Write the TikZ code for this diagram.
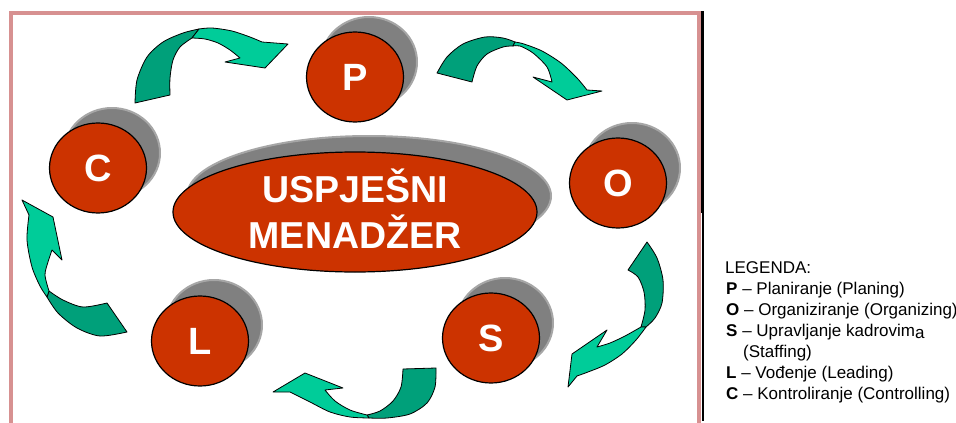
\documentclass[tikz,border=0pt]{standalone}
\usepackage{fontspec}
\setmainfont{Liberation Sans}
\usetikzlibrary{shapes.geometric}
\definecolor{redf}{RGB}{204,51,0}
\definecolor{shad}{RGB}{128,128,128}
\definecolor{darkg}{RGB}{0,160,122}
\definecolor{lightg}{RGB}{0,204,153}
\definecolor{framec}{RGB}{215,145,145}
\begin{document}
\begin{tikzpicture}[x=1pt,y=-1pt,
  ball/.style={ellipse, draw=black, line width=1.2pt, fill=redf, minimum width=97pt, minimum height=90pt, inner sep=0pt, text=white, font=\fontsize{38}{38}\selectfont\bfseries},
  bigoval/.style={ellipse, draw=black, line width=1.2pt, fill=redf, minimum width=364pt, minimum height=120pt, inner sep=0pt},
  bigtext/.style={anchor=base, text=white, inner sep=0pt, font=\fontsize{37.5}{40}\selectfont\bfseries},
  legtext/.style={anchor=base west, inner sep=0pt, text=black, font=\fontsize{17}{20}\selectfont},
  darkpart/.style={fill=darkg, draw=black, line width=0.8pt, line join=round},
  lightpart/.style={fill=lightg, draw=black, line width=0.8pt, line join=round},
  shadowfill/.style={fill=shad, draw=shad!70, line width=2pt}
]
\useasboundingbox (0,0) rectangle (956,423);
% frame
\draw[framec, line width=4pt] (11,425) -- (11,13) -- (698.5,13) -- (698.5,425);
\fill[black] (700.5,11) rectangle (704.3,213);
\fill[black] (702.3,213) rectangle (704,421);
% shadows
\path[shadowfill] (369,62) ellipse (48pt and 45pt);
\path[shadowfill] (632,168) ellipse (48pt and 45pt);
\path[shadowfill] (505,323) ellipse (48pt and 45pt);
\path[shadowfill] (214,325) ellipse (48pt and 45pt);
\path[shadowfill] (112,153) ellipse (48pt and 45pt);
\path[shadowfill] (369,196) ellipse (182pt and 60pt);
% nodes
\node[ball] (P) at (355,77) {P};
\node[ball] (O) at (618,183) {O};
\node[ball] (S) at (491,338) {S};
\node[ball] (L) at (200,341) {L};
\node[ball] (C) at (98,168) {C};
\node[bigoval] (M) at (355,212) {};
\node[bigtext] (t1) at (355,202) {USPJEŠNI};
\node[bigtext] (t2) at (355,248) {MENADŽER};
% arrow C -> P
\path[darkpart] plot[smooth] coordinates {(135,103) (137,80) (147,57) (163,42) (183,33) (199,29)} -- plot[smooth] coordinates {(192,38) (180,47) (173,60) (170,78) (170,95)} -- cycle;
\path[lightpart] plot[smooth] coordinates {(199,29) (212,28) (232,31) (250,37) (262,42)} -- (288,44) -- (265,68) -- (225,62) -- plot[smooth] coordinates {(240,58) (230,50) (218,43) (205,39) (192,38)} -- cycle;
% arrow P -> O
\path[darkpart] plot[smooth] coordinates {(437,73) (447,57) (463,44) (485,37) (503,38) (515,42)} -- plot[smooth] coordinates {(513,46) (503,47) (487,54) (477,66) (472,82)} -- cycle;
\path[lightpart] plot[smooth] coordinates {(515,42) (524,44) (542,51) (561,63) (577,78) (587,90)} -- (602,91) -- (567,100) -- (533,77) -- plot[smooth] coordinates {(552,82) (547,67) (533,53) (520,46) (513,46)} -- cycle;
% arrow O -> S
\path[darkpart] plot[smooth] coordinates {(647,242) (657,258) (663,280) (662,303) (655,318) (646,327)} -- plot[smooth] coordinates {(641,327) (645,310) (644,292) (638,277) (628,270)} -- cycle;
\path[lightpart] plot[smooth] coordinates {(646,327) (636,340) (622,354) (605,365) (588,372) (577,376)} -- (568,387) -- (572,354) -- (607,330) -- plot[smooth] coordinates {(597,347) (610,343) (625,336) (641,327)} -- cycle;
% arrow S -> L
\path[darkpart] plot[smooth] coordinates {(436,368) (435,387) (427,403) (410,414) (387,418) (369,418)} -- plot[smooth] coordinates {(367,415) (380,411) (393,401) (401,387) (403,369)} -- cycle;
\path[lightpart] plot[smooth] coordinates {(369,418) (350,417) (330,412) (310,402) (290,392)} -- (273,392) -- (305,373) -- (343,388) -- plot[smooth] coordinates {(325,390) (335,401) (350,410) (367,415)} -- cycle;
% arrow L -> C
\path[darkpart] plot[smooth] coordinates {(127,332) (100,336) (77,328) (58,313) (47,297)} -- plot[smooth] coordinates {(49,291) (63,300) (83,307) (107,303)} -- cycle;
\path[lightpart] plot[smooth] coordinates {(47,297) (40,286) (32,267) (27,240) (29,215)} -- (22,200) -- (53,217) -- (62,260) -- plot[smooth] coordinates {(52,250) (48,262) (45,275) (49,291)} -- cycle;
% legend
\node[legtext] (lg0) at (725,273) {LEGENDA:};
\node[legtext] (lg1) at (726,294) {\textbf{P} – Planiranje (Planing)};
\node[legtext] (lg2) at (726,315) {\textbf{O} – Organiziranje (Organizing)};
\node[legtext] (lg3) at (726,336) {\textbf{S} – Upravljanje kadrovim\raisebox{-2pt}{a}};
\node[legtext] (lg4) at (743,357) {(Staffing)};
\node[legtext] (lg5) at (726,378) {\textbf{L} – Vođenje (Leading)};
\node[legtext] (lg6) at (726,399) {\textbf{C} – Kontroliranje (Controlling)};
\end{tikzpicture}
\end{document}
